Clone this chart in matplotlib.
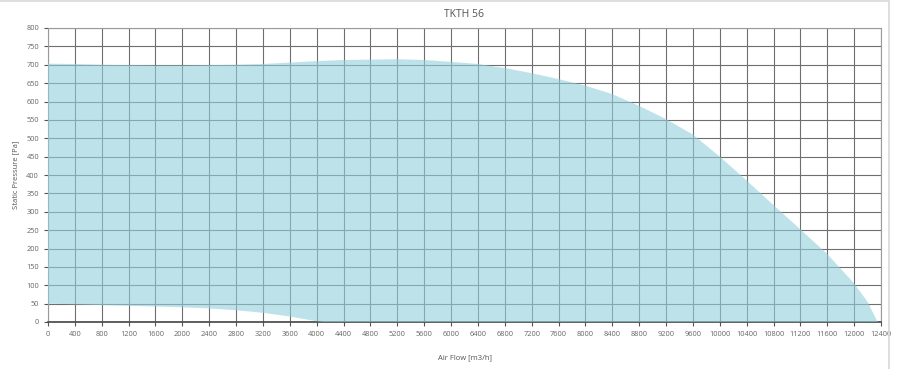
import numpy as np
import matplotlib.pyplot as plt
from matplotlib.patches import Rectangle

plt.rcParams['font.family'] = ['Open Sans', 'DejaVu Sans']

# upper limit of the working area (air flow m3/h, static pressure Pa)
upper_flow = [0, 400, 800, 1200, 1600, 2000, 2400, 2800, 3200, 3600, 4000,
              4400, 4800, 5200, 5600, 6000, 6400, 6800, 7200, 7600, 8000,
              8400, 8800, 9200, 9600, 10000, 10400, 10800, 11200, 11600,
              12000, 12200, 12350]
upper_pres = [703, 702, 700, 699, 698, 698, 699, 700, 702, 706, 710,
              713, 714, 715, 713, 708, 702, 691, 677, 661, 643,
              620, 588, 552, 510, 450, 385, 318, 252, 185,
              105, 55, 0]

# lower limit of the working area
lower_flow = [0, 400, 800, 1200, 1600, 2000, 2400, 2800, 3200, 3600, 4000, 4100]
lower_pres = [50, 48, 46, 44, 42, 40, 37, 32, 25, 15, 2, 0]

x_ticks = np.arange(0, 12401, 400)
y_ticks = np.arange(0, 801, 50)

fig = plt.figure(figsize=(9, 3.69), dpi=100)
ax = fig.add_axes([48 / 900, 47 / 369, 833 / 900, 294 / 369])

# working area polygon: upper curve left->right, then lower curve right->left
poly_x = list(upper_flow) + list(lower_flow[::-1])
poly_y = list(upper_pres) + list(lower_pres[::-1])
ax.fill(poly_x, poly_y, color=(0.575, 0.817, 0.863), alpha=0.6, lw=0, zorder=3)

ax.set_xlim(0, 12400)
ax.set_ylim(0, 800)
ax.set_xticks(x_ticks)
ax.set_yticks(y_ticks)
ax.grid(True, color='#6e6e6e', linewidth=0.8, zorder=1)
ax.set_axisbelow(True)

for side in ['top', 'right', 'left']:
    ax.spines[side].set_color('#9a9a9a')
    ax.spines[side].set_linewidth(0.8)
ax.spines['bottom'].set_color('#444444')
ax.spines['bottom'].set_linewidth(1.2)

ax.tick_params(axis='both', labelsize=5.3, labelcolor='#666666',
               color='#555555', length=3, width=0.8)

ax.set_title('TKTH 56', fontsize=7.5, color='#555555', pad=8)
ax.set_xlabel('Air Flow [m3/h]', fontsize=5.5, color='#555555', labelpad=12)
ax.set_ylabel('Static Pressure [Pa]', fontsize=5.5, color='#555555', labelpad=5)

# light frame around the figure
fig.patches.append(Rectangle((-0.01, -0.01), 889 / 900 + 0.01, 1 - 1 / 369 + 0.01,
                             transform=fig.transFigure, fill=False,
                             edgecolor='#d8d8d8', linewidth=1.2))

fig.savefig('out.png', dpi=100)
